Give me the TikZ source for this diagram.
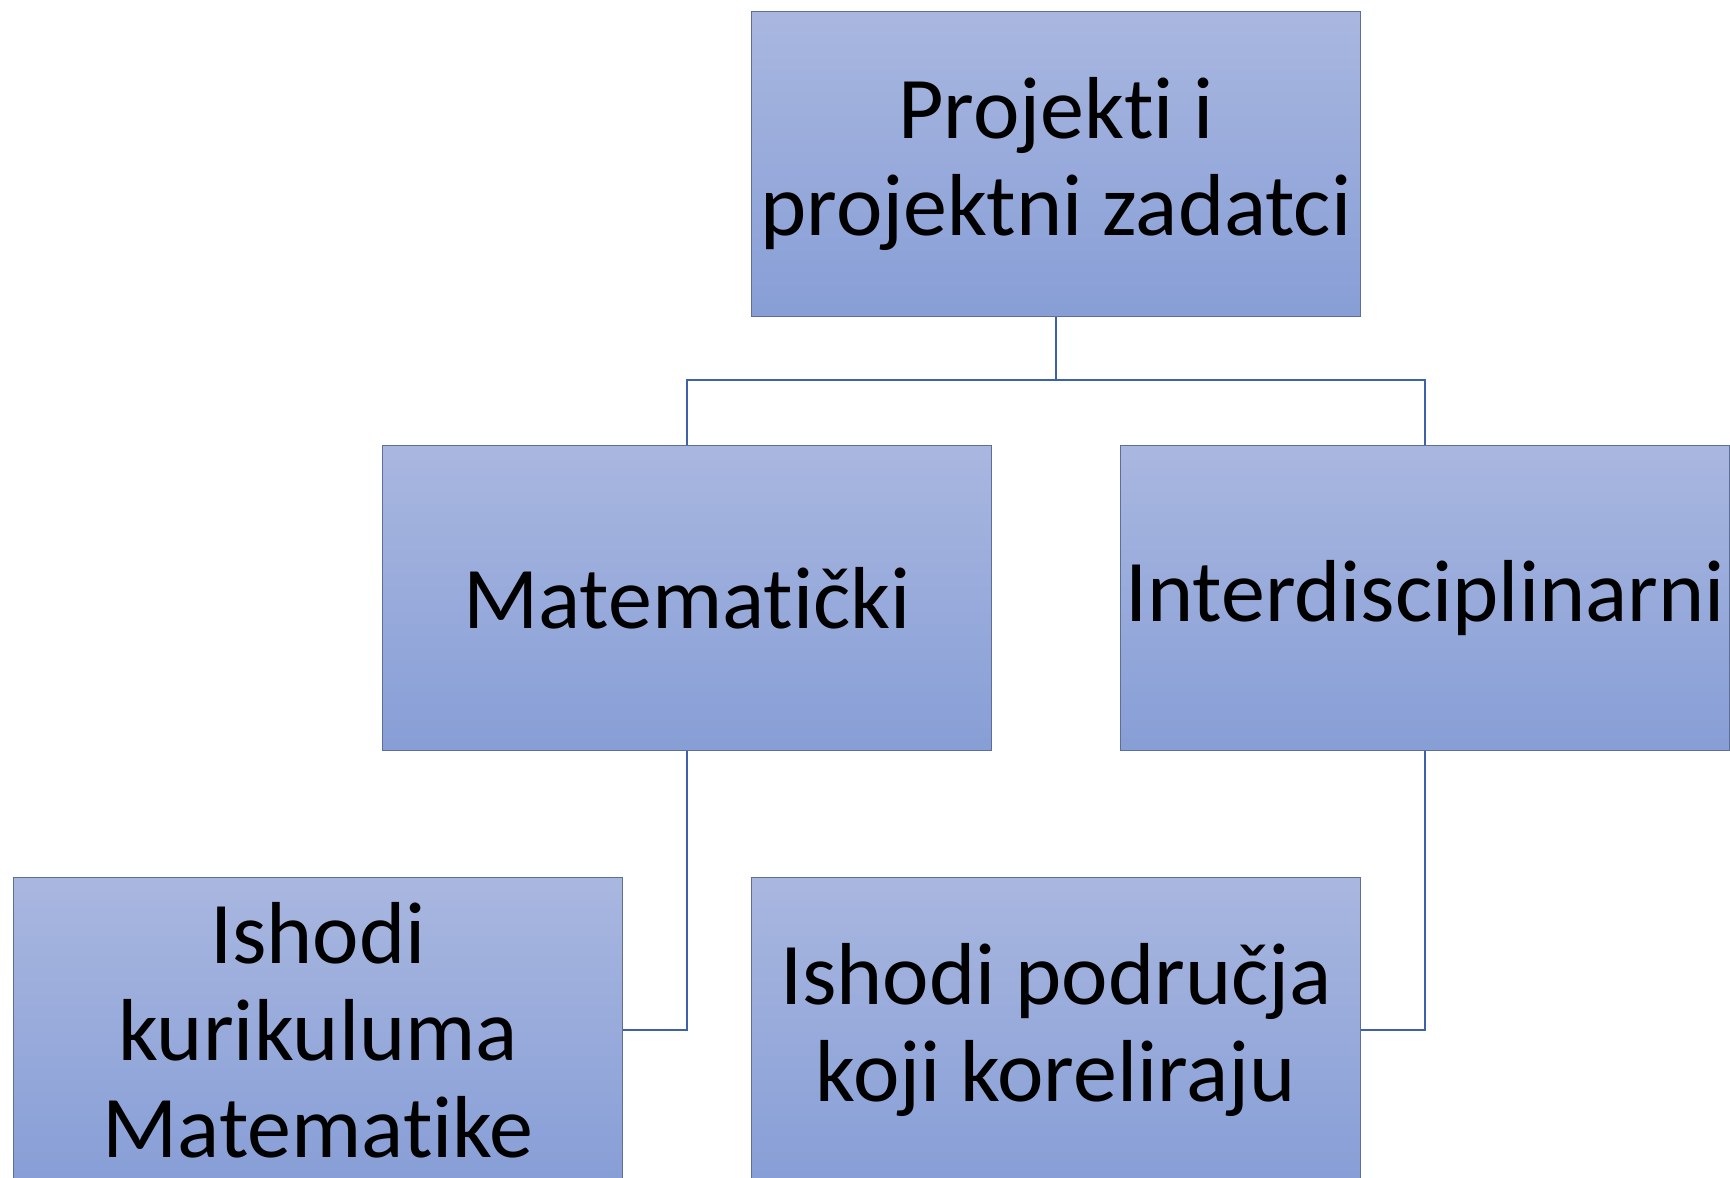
\documentclass[tikz,border=0pt]{standalone}
\usepackage{fontspec}
\setmainfont{Carlito}[Ligatures=NoCommon]
\definecolor{boxtop}{HTML}{A9B7E0}
\definecolor{boxbot}{HTML}{879ED6}
\definecolor{boxline}{HTML}{5F6E96}
\definecolor{connline}{HTML}{3D62A9}
\newcommand{\boxfont}{\fontsize{88}{97}\selectfont}
\begin{document}
\begin{tikzpicture}[x=1pt,y=-1pt,
  orgbox/.style={draw=boxline, line width=1pt, top color=boxtop, bottom color=boxbot,
    minimum width=609pt, minimum height=305pt, inner sep=0pt, anchor=north west,
    align=center, font=\boxfont},
  conn/.style={draw=connline, line width=2.2pt}]
\useasboundingbox (0,0) rectangle (1730,1178);
\fill[white] (0,0) rectangle (1730,1178);
\node[orgbox] (top) at (751,11) {Projekti i\\projektni zadatci};
\node[orgbox] (mat) at (382,445) {Matematički};
\node[orgbox] (int) at (1120,445) {Interdisciplinarni};
\node[orgbox] (ik) at (13,877) {Ishodi\\kurikuluma\\Matematike};
\node[orgbox] (ip) at (751,877) {Ishodi područja\\koji koreliraju};
\coordinate (split) at (1056,380);
\draw[conn] (top.south) -- (split);
\draw[conn] (split) -| (mat.north);
\draw[conn] (split) -| (int.north);
\draw[conn] (mat.south) |- (ik.east);
\draw[conn] (int.south) |- (ip.east);
\end{tikzpicture}
\end{document}
